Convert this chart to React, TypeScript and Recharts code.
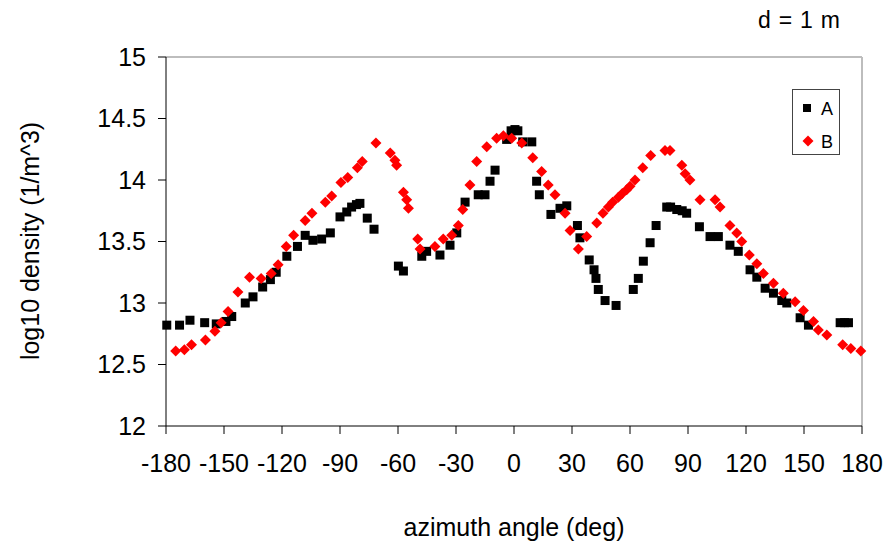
import React from "react";
import {
  ScatterChart,
  Scatter,
  XAxis,
  YAxis,
  ReferenceLine,
} from "recharts";

// series A (black squares)
const aAngles = [
  -179.6, -173, -167.6, -160, -154, -149, -146, -139, -135, -130, -126, -123,
  -117.5, -112, -108, -104, -99.5, -95, -90, -86.5, -84, -81.5, -79.7, -75.9,
  -72.4, -59.8, -57.2, -47.7, -45.2, -38.3, -33.1, -29.6, -25.3, -18.5, -15,
  -12.4, -9.8, -3.8, -1.5, 0.5, 2, 4.5, 9.2, 11.7, 13.1, 19.1, 23.8, 27.3,
  32.8, 34.1, 38.9, 41.4, 42.4, 43.6, 47.1, 52.8, 61.7, 64.3, 66.9, 70.4, 73.5,
  79, 81, 84.2, 87, 89.3, 95.9, 101.4, 105.7, 111.7, 116, 122.1, 125.6, 129.9,
  134.2, 138.5, 141.1, 148, 152.3, 168.7, 171, 173,
];
const aValues = [
  12.82, 12.82, 12.86, 12.84, 12.83, 12.85, 12.89, 13.0, 13.05, 13.13, 13.19,
  13.25, 13.38, 13.46, 13.55, 13.51, 13.52, 13.57, 13.7, 13.74, 13.78, 13.8,
  13.81, 13.69, 13.6, 13.3, 13.26, 13.38, 13.42, 13.39, 13.47, 13.57, 13.82,
  13.88, 13.88, 13.99, 14.08, 14.33, 14.4, 14.41, 14.4, 14.31, 14.31, 13.99,
  13.88, 13.72, 13.77, 13.79, 13.63, 13.53, 13.35, 13.27, 13.2, 13.11, 13.02,
  12.98, 13.11, 13.2, 13.34, 13.49, 13.63, 13.78, 13.78, 13.76, 13.75, 13.73,
  13.62, 13.54, 13.54, 13.47, 13.42, 13.27, 13.21, 13.12, 13.08, 13.02, 13.0,
  12.88, 12.82, 12.84, 12.84, 12.84,
];

// series B (red diamonds)
const bAngles = [
  -175, -170.5, -166.8, -159.6, -154.7, -151.5, -147.9, -142.8, -136.8, -130.8,
  -125.6, -122, -117.8, -114, -108, -104.5, -97.6, -94.3, -89.5, -86, -81,
  -78.5, -71.4, -64, -61.6, -60.7, -57.2, -55.5, -54.6, -49.8, -48.6, -40.9,
  -36.6, -32.2, -28.8, -26.5, -22.8, -19.3, -14.1, -9, -5.5, -1.2, 4, 9.7,
  14.3, 17.7, 21.2, 26.4, 29, 33.3, 37.6, 42.8, 46, 48.8, 51, 54, 56, 58.3, 60,
  62.6, 66.6, 70.7, 78.1, 80.7, 86.8, 88.5, 91, 96.2, 104, 106.6, 111.7, 115.2,
  117.8, 121.7, 125.6, 129, 134.2, 139.3, 145.4, 149.7, 154.9, 157.4, 161.8,
  170, 174.2, 179.4,
];
const bValues = [
  12.61, 12.62, 12.66, 12.7, 12.77, 12.84, 12.93, 13.09, 13.21, 13.2, 13.24,
  13.31, 13.46, 13.55, 13.67, 13.73, 13.82, 13.87, 13.98, 14.02, 14.1, 14.15,
  14.3, 14.22, 14.16, 14.12, 13.9, 13.84, 13.77, 13.52, 13.44, 13.46, 13.52,
  13.55, 13.63, 13.76, 13.96, 14.15, 14.27, 14.34, 14.36, 14.34, 14.3, 14.18,
  14.07, 13.96, 13.88, 13.73, 13.59, 13.44, 13.54, 13.65, 13.73, 13.78, 13.82,
  13.86, 13.89, 13.92, 13.95, 14.0, 14.1, 14.2, 14.24, 14.24, 14.12, 14.05,
  14.0, 13.84, 13.84, 13.78, 13.63, 13.57, 13.5, 13.39, 13.32, 13.24, 13.16,
  13.08, 13.01, 12.94, 12.85, 12.78, 12.74, 12.66, 12.63, 12.61,
];

const xTicks = [-180, -150, -120, -90, -60, -30, 0, 30, 60, 90, 120, 150, 180];
const yTicks = [12, 12.5, 13, 13.5, 14, 14.5, 15];

const seriesA = aAngles.map((angle, i) => ({ angle, value: aValues[i] }));
const seriesB = bAngles.map((angle, i) => ({ angle, value: bValues[i] }));

const FONT = "'Liberation Sans', Arial, sans-serif";

const SquareDot = (props: any) => {
  const { cx, cy } = props;
  if (cx == null || cy == null) return null;
  return <rect x={cx - 4.5} y={cy - 4.5} width={9} height={9} fill="#000000" />;
};

const DiamondDot = (props: any) => {
  const { cx, cy } = props;
  if (cx == null || cy == null) return null;
  const r = 5.5;
  return (
    <polygon
      points={`${cx},${cy - r} ${cx + r},${cy} ${cx},${cy + r} ${cx - r},${cy}`}
      fill="#ff0000"
    />
  );
};

// legend drawn as a plain box in the top right of the plot
const LegendBox = () => (
  <g>
    <rect x={792.5} y={89.5} width={47} height={65} fill="#fff" stroke="#444" />
    <rect x={803} y={104} width={8} height={8} fill="#000" />
    <text x={821} y={115} fontSize={18} fill="#000">
      A
    </text>
    <polygon points="808,135.5 813.5,141 808,146.5 802.5,141" fill="#ff0000" />
    <text x={821} y={148} fontSize={18} fill="#000">
      B
    </text>
  </g>
);

export default function App() {
  return (
    <div style={{ position: "absolute", left: 0, top: 0, background: "#fff" }}>
      <ScatterChart
        width={893}
        height={544}
        margin={{ top: 57, right: 31, bottom: 0, left: 0 }}
        style={{ fontFamily: FONT }}
      >
        <XAxis
          type="number"
          dataKey="angle"
          domain={[-180, 180]}
          ticks={xTicks}
          interval={0}
          height={118}
          tickSize={8}
          tickMargin={20}
          stroke="#000"
          tick={{ fill: "#000", fontSize: 25 }}
          label={{
            value: "azimuth angle (deg)",
            position: "insideBottom",
            offset: 8,
            fill: "#000",
            fontSize: 25,
          }}
        />
        <YAxis
          type="number"
          dataKey="value"
          domain={[12, 15]}
          ticks={yTicks}
          interval={0}
          width={166}
          tickSize={8}
          tickMargin={12}
          stroke="#000"
          tick={{ fill: "#000", fontSize: 25 }}
        />
        <ReferenceLine y={15} stroke="#bdbdbd" strokeWidth={2} />
        <ReferenceLine x={180} stroke="#bdbdbd" strokeWidth={2} />
        <Scatter
          name="A"
          data={seriesA}
          shape={SquareDot}
          isAnimationActive={false}
        />
        <Scatter
          name="B"
          data={seriesB}
          shape={DiamondDot}
          isAnimationActive={false}
        />
        <LegendBox />
        <text
          x={30}
          y={241}
          transform="rotate(-90 30 241)"
          textAnchor="middle"
          dominantBaseline="central"
          fontSize={25}
          fill="#000"
        >
          log10 density (1/m^3)
        </text>
        <text x={758} y={28} fontSize={23} wordSpacing={1.5} fill="#000">
          d = 1 m
        </text>
      </ScatterChart>
    </div>
  );
}
